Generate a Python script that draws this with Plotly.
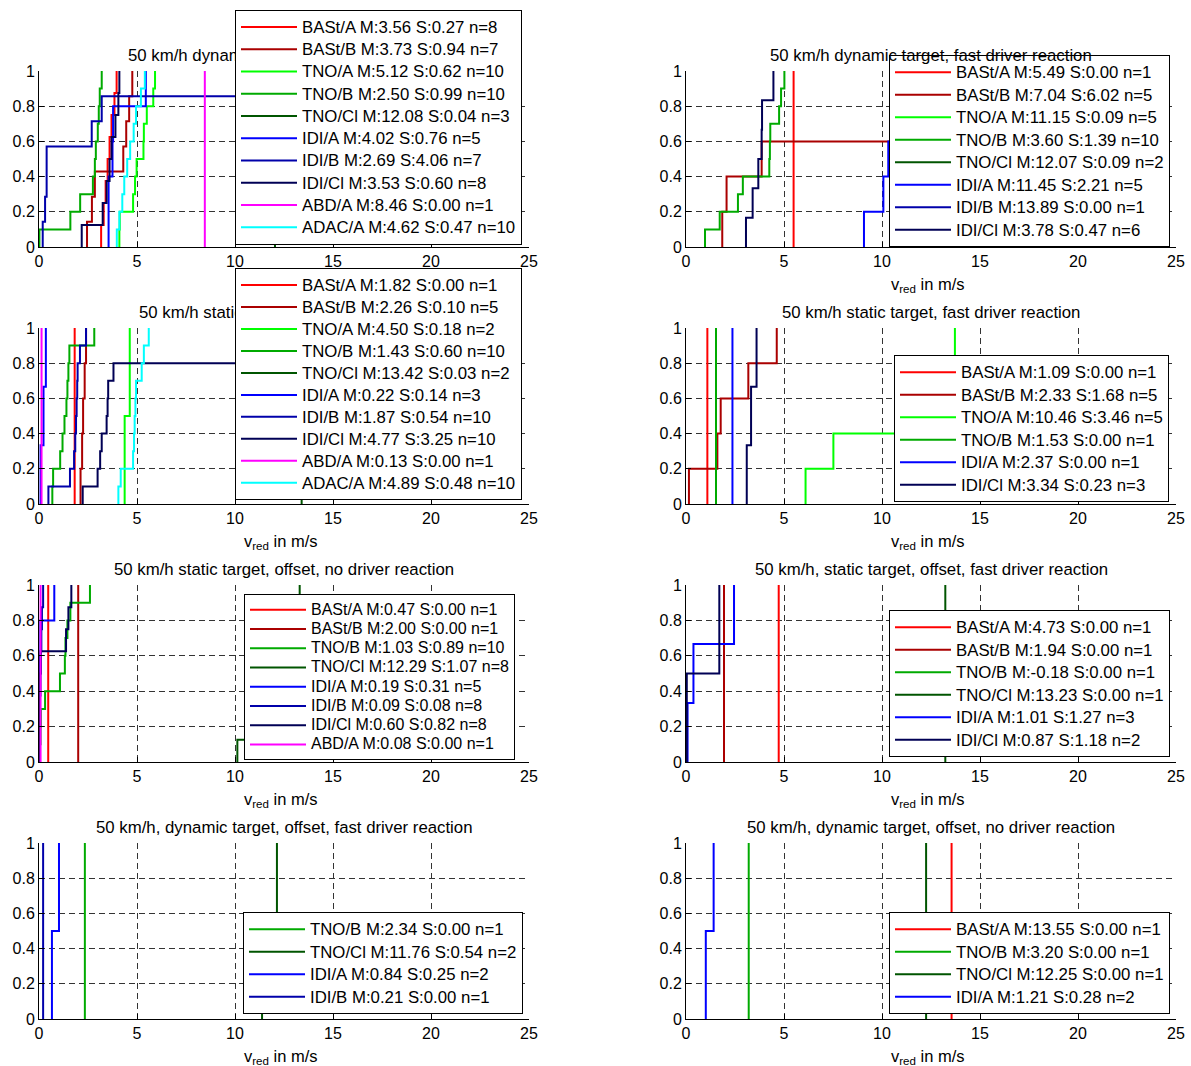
import plotly.graph_objects as go

W, H = 1191, 1066
FONT = "Liberation Sans, Arial, Helvetica, sans-serif"

COLORS = {"BASt/A": "#ff0000", "BASt/B": "#aa0000", "TNO/A": "#00ff00", "TNO/B": "#00aa00",
          "TNO/Cl": "#005500", "IDI/A": "#0000ff", "IDI/B": "#0000aa", "IDI/Cl": "#000055",
          "ABD/A": "#ff00ff", "ADAC/A": "#00ffff"}

TITLES = ["50 km/h dynamic target, no driver reaction",
          "50 km/h dynamic target, fast driver reaction",
          "50 km/h static target, no driver reaction",
          "50 km/h static target, fast driver reaction",
          "50 km/h static target, offset, no driver reaction",
          "50 km/h, static target, offset, fast driver reaction",
          "50 km/h, dynamic target, offset, fast driver reaction",
          "50 km/h, dynamic target, offset, no driver reaction"]
XLABEL = "v<sub>red</sub> in m/s"
X_TICKS = [0, 5, 10, 15, 20, 25]
Y_TICKS = [0, 0.2, 0.4, 0.6, 0.8, 1]

# ---- panel 1: dynamic target, no driver reaction
P1_NAMES = ["BASt/A", "BASt/B", "TNO/A", "TNO/B", "TNO/Cl", "IDI/A", "IDI/B", "IDI/Cl", "ABD/A", "ADAC/A"]
P1_MEANS = [3.56, 3.73, 5.12, 2.50, 12.08, 4.02, 2.69, 3.53, 8.46, 4.62]
P1_STDS = [0.27, 0.94, 0.62, 0.99, 0.04, 0.76, 4.06, 0.60, 0.00, 0.47]
P1_VALUES = [[3.17, 3.3, 3.4, 3.5, 3.6, 3.7, 3.85, 3.96],
             [2.45, 2.7, 2.85, 4.3, 4.45, 4.6, 4.76],
             [4.1, 4.12, 4.8, 4.9, 4.98, 5.33, 5.35, 5.5, 5.83, 5.92],
             [0.02, 1.6, 2.1, 2.75, 2.85, 2.9, 3.0, 3.05, 3.1, 3.2],
             [12.04, 12.08, 12.12],
             [3.55, 3.55, 3.75, 3.78, 5.45],
             [0.19, 0.31, 0.39, 0.39, 2.69, 3.2, 11.66],
             [2.18, 3.25, 3.45, 3.6, 3.7, 3.9, 4.05, 4.1],
             [8.46],
             [3.97, 4.1, 4.25, 4.35, 4.5, 4.65, 4.83, 4.95, 5.2, 5.4]]

# ---- panel 2: dynamic target, fast driver reaction
P2_NAMES = ["BASt/A", "BASt/B", "TNO/A", "TNO/B", "TNO/Cl", "IDI/A", "IDI/B", "IDI/Cl"]
P2_MEANS = [5.49, 7.04, 11.15, 3.60, 12.07, 11.45, 13.89, 3.78]
P2_STDS = [0.00, 6.02, 0.09, 1.39, 0.09, 2.21, 0.00, 0.47]
P2_VALUES = [[5.49],
             [1.85, 2.07, 3.86, 13.5, 13.92],
             [11.02, 11.12, 11.16, 11.2, 11.25],
             [0.97, 1.72, 2.65, 2.9, 4.25, 4.28, 4.3, 4.75, 4.85, 5.02],
             [12.0, 12.13],
             [9.08, 10.07, 10.32, 13.8, 13.98],
             [13.89],
             [3.06, 3.4, 3.69, 3.86, 3.88, 4.46]]

# ---- panel 3: static target, no driver reaction
P3_NAMES = ["BASt/A", "BASt/B", "TNO/A", "TNO/B", "TNO/Cl", "IDI/A", "IDI/B", "IDI/Cl", "ABD/A", "ADAC/A"]
P3_MEANS = [1.82, 2.26, 4.50, 1.43, 13.42, 0.22, 1.87, 4.77, 0.13, 4.89]
P3_STDS = [0.00, 0.10, 0.18, 0.60, 0.03, 0.14, 0.54, 3.25, 0.00, 0.48]
P3_VALUES = [[1.82],
             [2.12, 2.2, 2.25, 2.33, 2.4],
             [4.37, 4.63],
             [0.68, 0.72, 1.08, 1.2, 1.3, 1.4, 1.45, 1.5, 1.55, 2.82],
             [13.4, 13.44],
             [0.08, 0.23, 0.35],
             [0.48, 1.58, 1.79, 1.85, 1.89, 1.92, 1.95, 1.97, 2.09, 2.4],
             [2.23, 2.99, 3.12, 3.2, 3.45, 3.5, 3.53, 3.8, 10.9, 11.03],
             [0.13],
             [4.05, 4.17, 4.8, 4.85, 4.88, 4.92, 4.95, 5.24, 5.35, 5.6]]

# ---- panel 4: static target, fast driver reaction
P4_NAMES = ["BASt/A", "BASt/B", "TNO/A", "TNO/B", "IDI/A", "IDI/Cl"]
P4_MEANS = [1.09, 2.33, 10.46, 1.53, 2.37, 3.34]
P4_STDS = [0.00, 1.68, 3.46, 0.00, 0.00, 0.23]
P4_VALUES = [[1.09],
             [0.15, 1.6, 1.77, 3.18, 4.63],
             [6.1, 7.52, 12.4, 12.56, 13.72],
             [1.53],
             [2.37],
             [3.1, 3.32, 3.6]]

# ---- panel 5: static target, offset, no driver reaction
P5_NAMES = ["BASt/A", "BASt/B", "TNO/B", "TNO/Cl", "IDI/A", "IDI/B", "IDI/Cl", "ABD/A"]
P5_MEANS = [0.47, 2.00, 1.03, 12.29, 0.19, 0.09, 0.60, 0.08]
P5_STDS = [0.00, 0.00, 0.89, 1.07, 0.31, 0.08, 0.82, 0.00]
P5_VALUES = [[0.47],
             [2.00],
             [0.05, 0.08, 0.1, 0.31, 1.07, 1.32, 1.35, 1.45, 1.6, 2.6],
             [10.12, 11.8, 12.2, 12.4, 12.6, 12.8, 13.1, 13.3],
             [0.02, 0.03, 0.05, 0.07, 0.78],
             [0.0, 0.02, 0.05, 0.07, 0.1, 0.12, 0.15, 0.21],
             [0.02, 0.04, 0.05, 0.06, 0.08, 1.38, 1.5, 1.65],
             [0.08]]

# ---- panel 6: static target, offset, fast driver reaction
P6_NAMES = ["BASt/A", "BASt/B", "TNO/B", "TNO/Cl", "IDI/A", "IDI/Cl"]
P6_MEANS = [4.73, 1.94, -0.18, 13.23, 1.01, 0.87]
P6_STDS = [0.00, 0.00, 0.00, 0.00, 1.27, 1.18]
P6_VALUES = [[4.73],
             [1.94],
             [-0.18],
             [13.23],
             [0.08, 0.38, 2.45],
             [0.04, 1.7]]

# ---- panel 7: dynamic target, offset, fast driver reaction
P7_NAMES = ["TNO/B", "TNO/Cl", "IDI/A", "IDI/B"]
P7_MEANS = [2.34, 11.76, 0.84, 0.21]
P7_STDS = [0.00, 0.54, 0.25, 0.00]
P7_VALUES = [[2.34],
             [11.38, 12.14],
             [0.66, 1.02],
             [0.21]]

# ---- panel 8: dynamic target, offset, no driver reaction
P8_NAMES = ["BASt/A", "TNO/B", "TNO/Cl", "IDI/A"]
P8_MEANS = [13.55, 3.20, 12.25, 1.21]
P8_STDS = [0.00, 0.00, 0.00, 0.28]
P8_VALUES = [[13.55],
             [3.20],
             [12.25],
             [1.01, 1.41]]

PANELS = [(P1_NAMES, P1_MEANS, P1_STDS, P1_VALUES),
          (P2_NAMES, P2_MEANS, P2_STDS, P2_VALUES),
          (P3_NAMES, P3_MEANS, P3_STDS, P3_VALUES),
          (P4_NAMES, P4_MEANS, P4_STDS, P4_VALUES),
          (P5_NAMES, P5_MEANS, P5_STDS, P5_VALUES),
          (P6_NAMES, P6_MEANS, P6_STDS, P6_VALUES),
          (P7_NAMES, P7_MEANS, P7_STDS, P7_VALUES),
          (P8_NAMES, P8_MEANS, P8_STDS, P8_VALUES)]

# ---- layout geometry (pixels)
COL_X = [(39, 529), (686, 1176)]
ROW_Y = [(71, 247), (328, 504), (585, 762), (843, 1019)]
LEGEND_POS = [(235, 245), (889, 247), (235, 500), (894, 502),
              (244, 760), (889, 757), (243, 1014), (889, 1014)]
LEGEND_FONT = [14.8, 15, 14.6, 15, 12.5, 15, 15, 15]
LEGEND_TEXT = [16.8, 16.8, 16.8, 16.8, 16.0, 16.8, 16.8, 16.8]

fig = go.Figure()
layout = dict(width=W, height=H, margin=dict(l=0, r=0, t=0, b=0, autoexpand=False),
              paper_bgcolor="white", plot_bgcolor="white", showlegend=True,
              hovermode=False, annotations=[])

for i, (names, means, stds, values) in enumerate(PANELS):
    r, c = divmod(i, 2)
    sfx = "" if i == 0 else str(i + 1)
    leg = "legend" if i == 0 else "legend" + str(i + 1)
    for name, m, s, vals in zip(names, means, stds, values):
        xs = sorted(vals)
        n = len(xs)
        label = "%s M:%.2f S:%.2f n=%d" % (name, m, s, n)
        fig.add_trace(go.Scatter(
            x=[xs[0]] + xs, y=[k / n for k in range(n + 1)], mode="lines",
            line=dict(color=COLORS[name], width=2, shape="hv"),
            name='<span style="font-size:%spx">%s</span>' % (LEGEND_TEXT[i], label),
            legend=leg, xaxis="x" + sfx, yaxis="y" + sfx))

    x0, x1 = COL_X[c]
    yt, yb = ROW_Y[r]
    common = dict(showline=True, linecolor="black", linewidth=1, mirror=False,
                  ticks="inside", ticklen=5, tickcolor="black", showgrid=True,
                  gridcolor="#333333", gridwidth=1, griddash="6px,4px", zeroline=False,
                  automargin=False, tickfont=dict(family=FONT, size=16, color="black"))
    layout["xaxis" + sfx] = dict(domain=[x0 / W, x1 / W], range=[0, 25], tickvals=X_TICKS,
                                 anchor="y" + sfx, **common)
    layout["yaxis" + sfx] = dict(domain=[1 - yb / H, 1 - yt / H], range=[0, 1], tickvals=Y_TICKS,
                                 ticktext=[("%g" % v) for v in Y_TICKS],
                                 anchor="x" + sfx, **common)
    lx, lb = LEGEND_POS[i]
    layout[leg] = dict(x=lx / W, y=1 - lb / H, xanchor="left", yanchor="bottom",
                       bgcolor="white", bordercolor="black", borderwidth=1,
                       font=dict(family=FONT, size=LEGEND_FONT[i], color="black"),
                       itemwidth=56, tracegroupgap=0, traceorder="normal")
    cx = (x0 + x1) / 2 / W
    layout["annotations"].append(dict(text=TITLES[i], x=cx, y=1 - (yt - 16) / H, xref="paper", yref="paper",
                                      xanchor="center", yanchor="middle", showarrow=False,
                                      font=dict(family=FONT, size=16.8, color="black")))
    layout["annotations"].append(dict(text=XLABEL, x=cx - 3 / W, y=1 - (yb + 38) / H, xref="paper", yref="paper",
                                      xanchor="center", yanchor="middle", showarrow=False,
                                      font=dict(family=FONT, size=16.5, color="black")))

fig.update_layout(**layout)

# the two legends that cover subplot titles are raised above the annotations
JS = """
var gd = document.getElementById('{plot_id}');
var il = gd.querySelector('.infolayer');
if (il) {
  Array.prototype.slice.call(il.children).forEach(function(g) {
    var c = (g.getAttribute('class') || '').split(' ')[0];
    if (c === 'legend' || c === 'legend3') { il.appendChild(g); }
  });
}
"""
fig.write_html("out.html", post_script=JS)
